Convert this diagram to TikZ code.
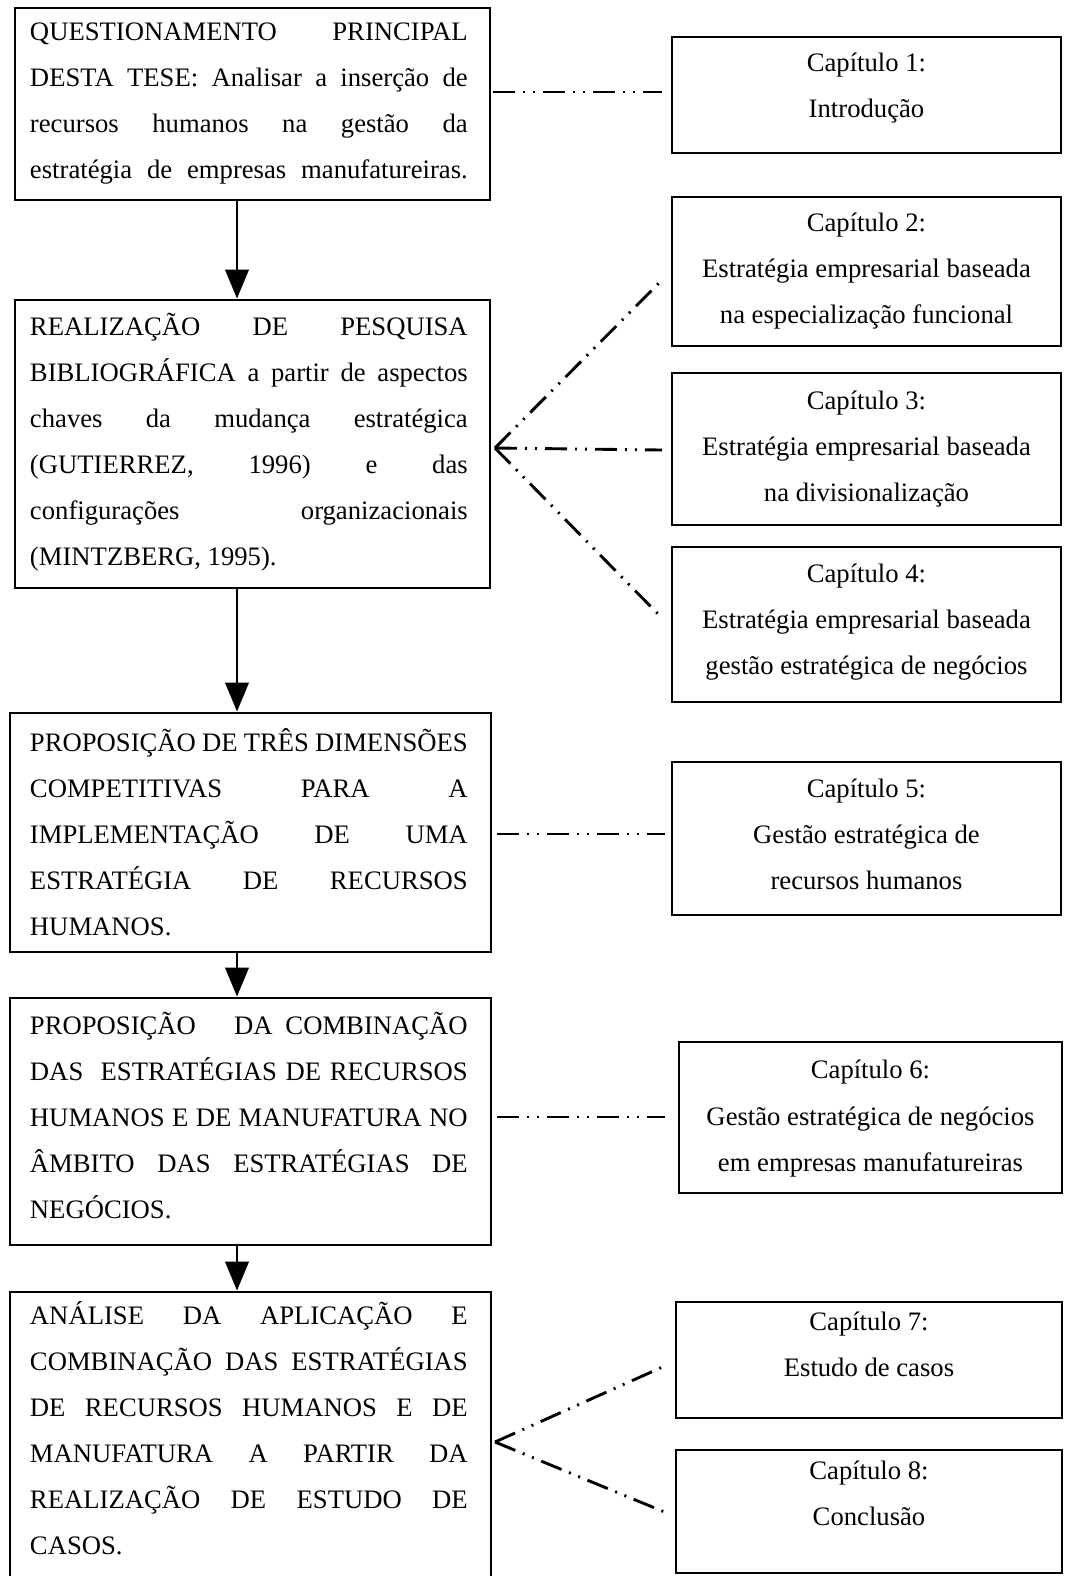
\documentclass[tikz,border=0pt]{standalone}
\usepackage{fontspec}
\setmainfont{Liberation Serif}
\usetikzlibrary{arrows.meta}

% width of the justified text block in the left-hand boxes
\newlength\tw
\setlength\tw{197pt}
% one fully justified line
\newcommand\jl[1]{\makebox[\tw][s]{#1}}
\newcommand\lfont{\fontsize{12pt}{20.7pt}\selectfont}
\newcommand\rfont{\fontsize{12pt}{20.9pt}\selectfont}
% left box: height, width, left padding, first baseline, lines
\newcommand\lcontent[5]{\parbox[c][#1][t]{#2}{\lfont\rule{0pt}{#4}\hspace*{#3}\parbox[t]{\tw}{#5}}}
% right box: height, width, first baseline, lines
\newcommand\rcontent[4]{\parbox[c][#1][t]{#2}{\rfont\centering\rule{0pt}{#3}#4}}

\tikzset{
  box/.style={draw, line width=1.3pt, inner sep=0pt, fill=white},
  arr/.style={line width=1.2pt, -{Triangle[length=13pt,width=10.5pt]}},
  dd/.style={line width=1.3pt, dash pattern=on 9.9pt off 3.6pt on 0.9pt off 3.6pt on 0.9pt off 3.6pt}
}

\begin{document}
\begin{tikzpicture}[x=0.45pt, y=-0.45pt]
\fill[white] (0,0) rectangle (1065,1576);
\useasboundingbox (0,0) rectangle (1065,1576);

% ---- main sequence (left column)
\node[box] (b1) at (252.5,104) {\lcontent{86.4pt}{213.75pt}{6.75pt}{14.4pt}{%
  \jl{QUESTIONAMENTO PRINCIPAL}\\
  \jl{DESTA TESE: Analisar a inserção de}\\
  \jl{recursos humanos na gestão da}\\
  \jl{estratégia de empresas manufatureiras.}}};

\node[box] (b2) at (252.5,444) {\lcontent{129.6pt}{213.75pt}{6.75pt}{15.9pt}{%
  \jl{REALIZAÇÃO DE PESQUISA}\\
  \jl{BIBLIOGRÁFICA a partir de aspectos}\\
  \jl{chaves da mudança estratégica}\\
  \jl{(GUTIERREZ, 1996) e das}\\
  \jl{configurações organizacionais}\\
  (MINTZBERG, 1995).}};

\node[box] (b3) at (250.5,832.5) {\lcontent{107.55pt}{216.45pt}{9pt}{17.1pt}{%
  \jl{PROPOSIÇÃO DE TRÊS DIMENSÕES}\\
  \jl{COMPETITIVAS PARA A}\\
  \jl{IMPLEMENTAÇÃO DE UMA}\\
  \jl{ESTRATÉGIA DE RECURSOS}\\
  HUMANOS.}};

\node[box] (b4) at (250.5,1121.5) {\lcontent{111.15pt}{216.45pt}{9pt}{16.6pt}{%
  \jl{PROPOSIÇÃO\ \ \ DA COMBINAÇÃO}\\
  \jl{DAS\ \ ESTRATÉGIAS DE RECURSOS}\\
  \jl{HUMANOS E DE MANUFATURA NO}\\
  \jl{ÂMBITO DAS ESTRATÉGIAS DE}\\
  NEGÓCIOS.}};

\node[box] (b5) at (250.5,1438.5) {\lcontent{131.85pt}{216.45pt}{9pt}{14.4pt}{%
  \jl{ANÁLISE DA APLICAÇÃO E}\\
  \jl{COMBINAÇÃO DAS ESTRATÉGIAS}\\
  \jl{DE RECURSOS HUMANOS E DE}\\
  \jl{MANUFATURA A PARTIR DA}\\
  \jl{REALIZAÇÃO DE ESTUDO DE}\\
  CASOS.}};

% ---- chapters (right column)
\node[box] (c1) at (866.5,95) {\rcontent{52.2pt}{175.05pt}{15.3pt}{%
  Capítulo 1:\\ Introdução}};
\node[box] (c2) at (866.5,271.5) {\rcontent{67.05pt}{175.05pt}{15.3pt}{%
  Capítulo 2:\\ Estratégia empresarial baseada\\ na especialização funcional}};
\node[box] (c3) at (866.5,449) {\rcontent{68.4pt}{175.05pt}{16.2pt}{%
  Capítulo 3:\\ Estratégia empresarial baseada\\ na divisionalização}};
\node[box] (c4) at (866.5,624.5) {\rcontent{69.75pt}{175.05pt}{15.75pt}{%
  Capítulo 4:\\ Estratégia empresarial baseada\\ gestão estratégica de negócios}};
\node[box] (c5) at (866.5,838.5) {\rcontent{68.85pt}{175.05pt}{15.75pt}{%
  Capítulo 5:\\ Gestão estratégica de\\ recursos humanos}};
\node[box] (c6) at (870.5,1117.5) {\rcontent{67.95pt}{172.35pt}{16.6pt}{%
  Capítulo 6:\\ Gestão estratégica de negócios\\ em empresas manufatureiras}};
\node[box] (c7) at (869,1360) {\rcontent{52.2pt}{173.7pt}{12.6pt}{%
  Capítulo 7:\\ Estudo de casos}};
\node[box] (c8) at (869,1511.5) {\rcontent{55.35pt}{173.7pt}{13.05pt}{%
  Capítulo 8:\\ Conclusão}};

% ---- flow arrows
\draw[arr] (237,0 |- b1.south) -- (237,0 |- b2.north);
\draw[arr] (237,0 |- b2.south) -- (237,0 |- b3.north);
\draw[arr] (237,0 |- b3.south) -- (237,0 |- b4.north);
\draw[arr] (237,0 |- b4.south) -- (237,0 |- b5.north);

% ---- dash-dot-dot links to the chapters
\coordinate (h1a) at (493,92);   \coordinate (h1b) at (662,92);
\coordinate (f2)  at (495,448);
\coordinate (e2a) at (662,280);  \coordinate (e2b) at (662,450);  \coordinate (e2c) at (662,618);
\coordinate (h3a) at (497,834);  \coordinate (h3b) at (665,834);
\coordinate (h4a) at (497,1117); \coordinate (h4b) at (665,1117);
\coordinate (f5)  at (495,1442);
\coordinate (e5a) at (667,1365); \coordinate (e5b) at (667,1513);

\draw[dd] (h1a) -- (h1b);
\draw[dd] (f2) -- (e2a);
\draw[dd] (f2) -- (e2b);
\draw[dd] (f2) -- (e2c);
\draw[dd] (h3a) -- (h3b);
\draw[dd] (h4a) -- (h4b);
\draw[dd] (f5) -- (e5a);
\draw[dd] (f5) -- (e5b);
\end{tikzpicture}
\end{document}
